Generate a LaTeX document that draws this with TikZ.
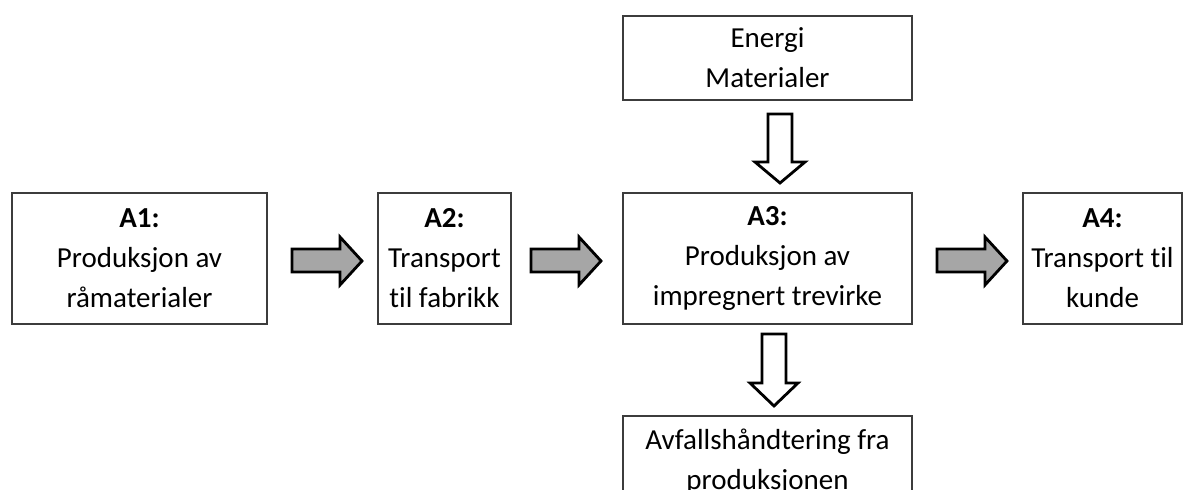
\documentclass[tikz,border=0pt]{standalone}
\usepackage{fontspec}
\setmainfont{Carlito}[Ligatures=CommonOff]
\definecolor{boxc}{RGB}{60,60,60}
\definecolor{arrowc}{RGB}{166,166,166}
\begin{document}
\begin{tikzpicture}[x=1pt,y=-1pt,
  box/.style={draw=boxc, line width=1.6pt, inner sep=0pt, align=center,
    font=\fontsize{29}{40}\selectfont},
  txt/.style={inner sep=0pt, align=center, font=\fontsize{29}{40}\selectfont},
  fatarrow/.style={draw=black, line width=2.8pt, line join=miter, fill=arrowc},
  openarrow/.style={draw=black, line width=2.8pt, line join=miter, fill=white}]
\fill[white] (0,0) rectangle (1187,490);
\clip (0,0) rectangle (1187,490);
\node[box, minimum width=255pt, minimum height=131pt] (a1) at (139.5,258.5)
  {\textbf{A1:}\\Produksjon av\\råmaterialer};
\node[box, minimum width=133pt, minimum height=131pt] (a2) at (444.5,258.5)
  {\textbf{A2:}\\Transport\\til fabrikk};
\node[box, minimum width=289pt, minimum height=131pt] (a3) at (767.5,258.5)
  {\textbf{A3:}\\Produksjon av\\impregnert trevirke};
\node[box, minimum width=159pt, minimum height=131pt] (a4) at (1102.5,258.5)
  {\textbf{A4:}\\Transport til\\kunde};
\node[box, minimum width=289pt, minimum height=84pt] (energi) at (767.5,58)
  {Energi\\Materialer};
\node[box, minimum width=289pt, minimum height=104pt] (avfall) at (767.5,468) {};
\node[txt] (avfalltext) at (767.5,461.5) {Avfallshåndtering fra\\produksjonen};
% right block arrows
\draw[fatarrow] (292,249) -- (340,249) -- (340,237) -- (362,261) -- (340,285)
  -- (340,272) -- (292,272) -- cycle;
\draw[fatarrow] (531,249) -- (579,249) -- (579,237) -- (601,261) -- (579,285)
  -- (579,272) -- (531,272) -- cycle;
\draw[fatarrow] (937,249) -- (985,249) -- (985,237) -- (1007,261) -- (985,285)
  -- (985,272) -- (937,272) -- cycle;
% down open arrows
\draw[openarrow] (768,114) -- (792,114) -- (792,162) -- (805,162) -- (780,183)
  -- (755,162) -- (768,162) -- cycle;
\draw[openarrow] (762,334) -- (786,334) -- (786,383) -- (798,383) -- (774,406)
  -- (750,383) -- (762,383) -- cycle;
\end{tikzpicture}
\end{document}
